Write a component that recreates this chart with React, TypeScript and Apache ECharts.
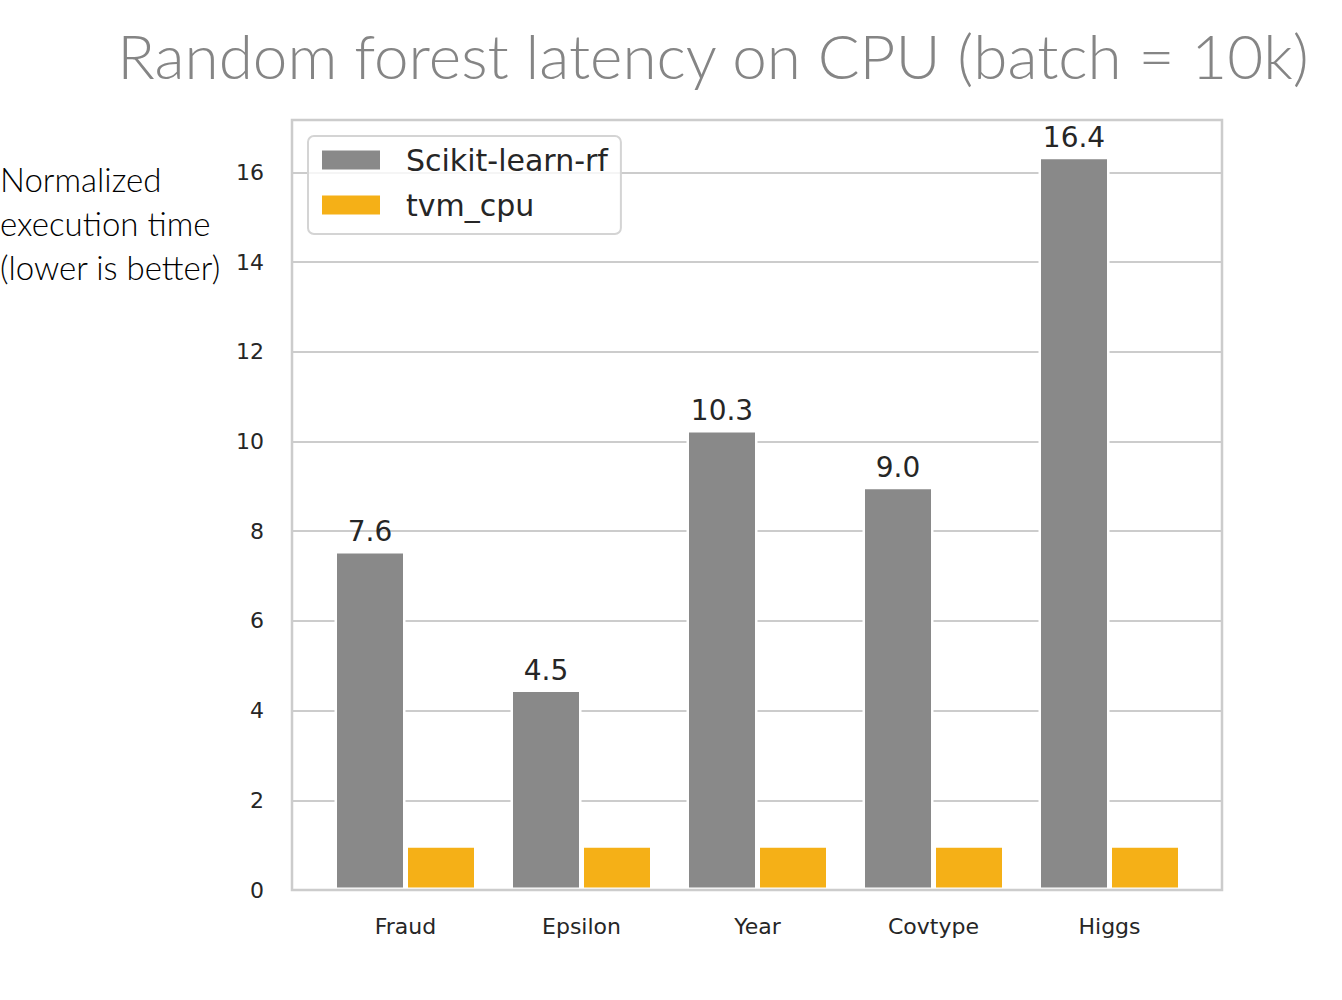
import React, { useEffect, useRef } from "react";
import * as echarts from "echarts";

const categories = ["Fraud", "Epsilon", "Year", "Covtype", "Higgs"];
const sklearnValues = [7.56, 4.47, 10.26, 8.99, 16.35];
const tvmValues = [1.0, 1.0, 1.0, 1.0, 1.0];
const seriesNames = ["Scikit-learn-rf", "tvm_cpu"];
const titleText = "Random forest latency on CPU (batch = 10k)";
const yTitleLines = ["Normalized", "execution time", "(lower is better)"];
const yMax = 17.17;

const GRAY = "#898989";
const ORANGE = "#f5b017";
const TEXT = "#262626";
const LINE = "#cccccc";

export default function App() {
  const ref = useRef<HTMLDivElement>(null);
  useEffect(() => {
    if (!ref.current) return;
    const chart = echarts.init(ref.current, undefined, { renderer: "svg" });
    chart.setOption({
      animation: false,
      backgroundColor: "#ffffff",
      grid: [
        { left: 292, right: 120, top: 120, bottom: 110 },
        { left: 317.5, right: 144.5, top: 120, bottom: 110 },
      ],
      xAxis: [
        { type: "value", gridIndex: 0, show: false, min: 0, max: 1 },
        {
          type: "category",
          gridIndex: 1,
          data: categories,
          axisLine: { show: false },
          axisTick: { show: false },
          axisLabel: {
            margin: 25,
            fontSize: 22,
            fontFamily: "DejaVu Sans",
            color: TEXT,
          },
        },
      ],
      yAxis: [
        {
          type: "value",
          gridIndex: 0,
          min: 0,
          max: yMax,
          interval: 2,
          axisLine: { show: false },
          axisTick: { show: false },
          axisLabel: {
            margin: 28,
            fontSize: 22,
            fontFamily: "DejaVu Sans",
            color: TEXT,
            showMaxLabel: false,
          },
          splitLine: { lineStyle: { color: LINE, width: 2 } },
        },
        { type: "value", gridIndex: 1, min: 0, max: yMax, show: false },
      ],
      legend: {
        left: 308,
        top: 136,
        orient: "vertical",
        data: seriesNames,
        icon: "rect",
        itemWidth: 58,
        itemHeight: 19,
        itemGap: 15,
        padding: [9, 13, 14, 14],
        borderColor: "#d4d4d4",
        borderWidth: 2,
        borderRadius: 6,
        backgroundColor: "rgba(255,255,255,0.8)",
        itemStyle: { borderWidth: 0 },
        textStyle: {
          fontSize: 30,
          lineHeight: 30,
          fontFamily: "DejaVu Sans",
          color: TEXT,
          padding: [0, 0, 0, 21],
        },
      },
      series: [
        {
          name: seriesNames[0],
          type: "bar",
          xAxisIndex: 1,
          yAxisIndex: 1,
          data: sklearnValues,
          barWidth: 71,
          barGap: "0%",
          itemStyle: { color: GRAY, borderColor: "#ffffff", borderWidth: 2.5 },
          label: {
            show: true,
            position: "top",
            distance: 5,
            fontSize: 28,
            fontFamily: "DejaVu Sans",
            color: TEXT,
            formatter: (p: any) => Number(p.value).toFixed(1),
          },
        },
        {
          name: seriesNames[1],
          type: "bar",
          xAxisIndex: 1,
          yAxisIndex: 1,
          data: tvmValues,
          barWidth: 71,
          barGap: "0%",
          itemStyle: { color: ORANGE, borderColor: "#ffffff", borderWidth: 2.5 },
        },
      ],
      graphic: [
        {
          type: "rect",
          z: 100,
          shape: { x: 292, y: 120, width: 930, height: 770 },
          style: { fill: "none", stroke: LINE, lineWidth: 2.5 },
        },
        {
          type: "text",
          x: 713,
          y: 55,
          style: {
            text: titleText,
            align: "center",
            verticalAlign: "middle",
            fontSize: 62,
            fontWeight: 300,
            fontFamily: "Lato",
            fill: "#858585",
          },
        },
        {
          type: "text",
          x: 0,
          y: 223,
          style: {
            text: yTitleLines.join("\n"),
            align: "left",
            verticalAlign: "middle",
            fontSize: 33,
            fontWeight: 300,
            lineHeight: 44,
            fontFamily: "Lato",
            fill: "#000000",
          },
        },
      ],
    });
    return () => chart.dispose();
  }, []);
  return (
    <div
      ref={ref}
      style={{ position: "absolute", left: 0, top: 0, width: 1342, height: 1000 }}
    />
  );
}
